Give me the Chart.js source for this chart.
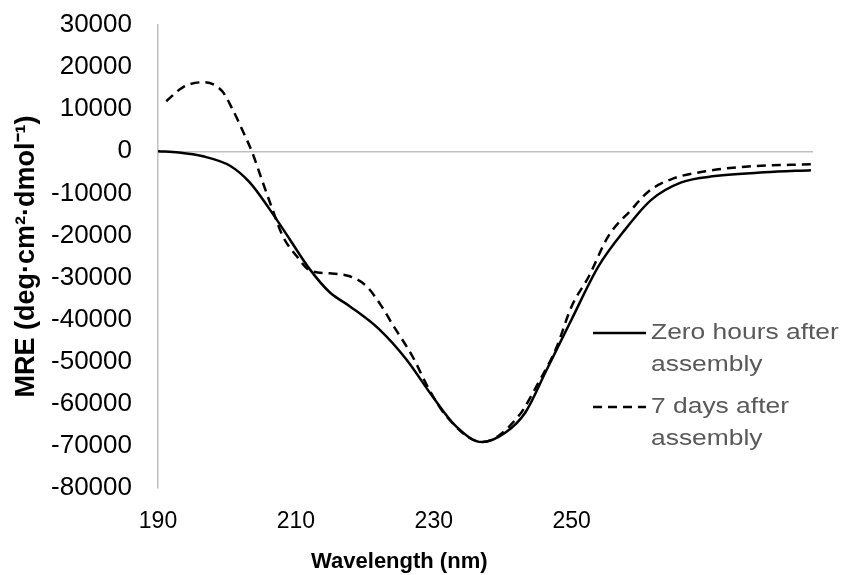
<!DOCTYPE html>
<html>
<head>
<meta charset="utf-8">
<script src="https://cdn.jsdelivr.net/npm/chart.js@4/dist/chart.umd.min.js"></script>
<style>
  html, body { margin: 0; padding: 0; background: #fff; }
  #wrap { width: 854px; height: 575px; }
</style>
</head>
<body>
<div id="wrap"><canvas id="cdChart" width="854" height="575"></canvas></div>
<script>
// wavelength (nm) and mean residue ellipticity
var zeroWl = [190, 193, 196.5, 200.5, 203.3, 206.2, 209.1, 212, 214.9, 217.8, 222.1, 226, 229.8, 233.2, 237, 240.5, 243.3, 246.2, 250, 253.9, 257.8, 261.5, 265.9, 270.8, 278, 284.7];
var zeroMre = [0, -300, -1200, -3500, -7400, -13800, -20900, -28000, -33500, -36800, -42300, -49400, -58200, -65300, -69100, -66700, -62000, -52500, -39900, -27300, -18500, -11600, -7400, -5900, -5000, -4500];

var sevenWl = [191.2, 193.6, 196.5, 199.3, 200.8, 202.3, 203.6, 205.2, 206.6, 208.1, 210.1, 212, 214.9, 217.8, 220.2, 222.5, 224, 226.9, 229.3, 231.8, 237, 242.3, 245.2, 247.7, 250, 252.5, 255.3, 258.7, 261.1, 264.5, 269.4, 275.6, 284.7];
var sevenMre = [11900, 15200, 16400, 14300, 10000, 4800, 0, -7400, -13800, -20200, -24900, -28300, -29000, -29700, -32000, -37000, -41100, -48700, -56500, -62900, -69100, -62900, -54900, -47000, -36800, -29700, -20200, -13800, -9600, -6600, -4750, -3600, -3100];

var xTicks = [190, 210, 230, 250];
var legendLines = [['Zero hours after', 'assembly'], ['7 days after', 'assembly']];
var xTitle = 'Wavelength (nm)';
var yTitle = 'MRE (deg\u00b7cm\u00b2\u00b7dmol\u207b\u00b9)';

function toPoints(xs, ys) {
    return xs.map(function(x, i) { return { x: x, y: ys[i] }; });
}

var axisGrey = '#bfbfbf';

// draws the x title (centred under the 190-260 span) and the legend inside the plot
var extras = {
    id: 'extras',
    afterDraw: function(chart) {
        var ctx = chart.ctx;
        var xs = chart.scales.x;
        ctx.save();

        ctx.fillStyle = '#000';
        ctx.font = 'bold 22px "Liberation Sans", Arial, sans-serif';
        ctx.textAlign = 'center';
        ctx.textBaseline = 'middle';
        var cx = (xs.getPixelForValue(190) + xs.getPixelForValue(260)) / 2;
        ctx.fillText(xTitle, cx, 562);

        var rowY = [333, 407];
        chart.data.datasets.forEach(function(ds, i) {
            var y = rowY[i];
            ctx.strokeStyle = ds.borderColor;
            ctx.lineWidth = ds.borderWidth;
            ctx.setLineDash(ds.borderDash || []);
            ctx.beginPath();
            ctx.moveTo(593, y);
            ctx.lineTo(646, y);
            ctx.stroke();
            ctx.setLineDash([]);

            // legend text in the source is drawn a little wide
            ctx.save();
            ctx.translate(651, 0);
            ctx.scale(1.2, 1);
            ctx.font = '22px "Liberation Sans", Arial, sans-serif';
            ctx.textAlign = 'left';
            ctx.fillStyle = '#595959';
            legendLines[i].forEach(function(t, j) {
                ctx.fillText(t, 0, y + j * 32);
            });
            ctx.restore();
        });
        ctx.restore();
    }
};

var ctx = document.getElementById('cdChart');
var cdChart = new Chart(ctx, {
    type: 'line',
    data: {
        datasets: [{
            label: 'Zero hours after assembly',
            data: toPoints(zeroWl, zeroMre),
            borderColor: '#000',
            borderWidth: 2.5,
            pointRadius: 0,
            cubicInterpolationMode: 'monotone',
            fill: false
        }, {
            label: '7 days after assembly',
            data: toPoints(sevenWl, sevenMre),
            borderColor: '#000',
            borderWidth: 2.5,
            borderDash: [9, 6],
            pointRadius: 0,
            cubicInterpolationMode: 'monotone',
            fill: false
        }]
    },
    options: {
        responsive: false,
        animation: false,
        layout: { padding: { top: 25, right: 41, left: 0, bottom: 0 } },
        plugins: {
            legend: { display: false },
            tooltip: { enabled: false }
        },
        scales: {
            x: {
                type: 'linear',
                min: 190,
                max: 285,
                afterBuildTicks: function(scale) {
                    scale.ticks = xTicks.map(function(v) { return { value: v }; });
                },
                afterFit: function(scale) { scale.height = 87; },
                grid: { display: false, drawTicks: false },
                border: { display: false },
                ticks: {
                    padding: 20,
                    color: '#000',
                    maxRotation: 0,
                    font: { family: '"Liberation Sans", Arial', size: 23 },
                    callback: function(v) { return v; }
                }
            },
            y: {
                min: -80000,
                max: 30000,
                afterFit: function(scale) {
                    scale.width = 158;
                    // tick padding is only wanted sideways, not above/below the plot
                    scale.paddingTop = 0;
                    scale.paddingBottom = 0;
                },
                grid: {
                    drawTicks: false,
                    lineWidth: 1.5,
                    color: function(c) { return c.tick && c.tick.value === 0 ? axisGrey : 'rgba(0,0,0,0)'; }
                },
                border: { display: true, color: axisGrey, width: 1.5 },
                ticks: {
                    stepSize: 10000,
                    padding: 26,
                    color: '#000',
                    font: { family: '"Liberation Sans", Arial', size: 26 },
                    callback: function(v) { return String(v); }
                },
                title: {
                    display: true,
                    text: yTitle,
                    color: '#000',
                    padding: { top: 10, bottom: 0 },
                    font: { family: '"Liberation Sans", Arial', size: 27, weight: 'bold' }
                }
            }
        }
    },
    plugins: [extras]
});
</script>
</body>
</html>
